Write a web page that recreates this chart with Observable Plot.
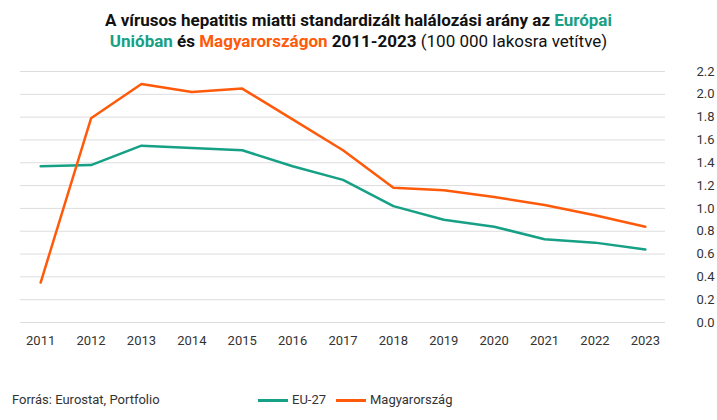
<!DOCTYPE html>
<html><head><meta charset="utf-8">
<script src="https://cdn.jsdelivr.net/npm/d3@7"></script>
<script src="https://cdn.jsdelivr.net/npm/@observablehq/plot@0.6"></script>
<style>
body{margin:0;font-family:Roboto,sans-serif;background:#fff;width:717px}
#t{text-align:center;font-size:17px;font-weight:bold;line-height:21px;padding-top:10px;height:48px;color:#111}
#f{position:relative;height:30px;font-size:13px;color:#333}
</style></head><body>
<div id="t">A vírusos hepatitis miatti standardizált halálozási arány az <span style="color:#16a085">Európai<br>Unióban</span> és <span style="color:#ff5a0a">Magyarországon</span> 2011-2023 <span style="font-weight:normal">(100 000 lakosra vetítve)</span></div>
<div id="c"></div>
<div id="f">
<span style="position:absolute;left:12px;top:4px">Forrás: Eurostat, Portfolio</span>
<span style="position:absolute;left:258px;top:4px"><span style="display:inline-block;width:30px;height:3px;background:#16a085;vertical-align:middle;margin-right:4px"></span>EU-27</span>
<span style="position:absolute;left:336px;top:4px"><span style="display:inline-block;width:30px;height:3px;background:#ff5a0a;vertical-align:middle;margin-right:4px"></span>Magyarország</span>
</div>
<script>
const years=[2011,2012,2013,2014,2015,2016,2017,2018,2019,2020,2021,2022,2023];
const eu=[1.37,1.38,1.55,1.53,1.51,1.37,1.25,1.02,0.90,0.84,0.73,0.70,0.64];
const hu=[0.35,1.79,2.09,2.02,2.05,1.78,1.51,1.18,1.16,1.10,1.03,0.94,0.84];
const yTicks=d3.range(0,2.21,0.2);
const data=[...years.map((y,i)=>({year:y,v:eu[i],s:"EU-27"})),...years.map((y,i)=>({year:y,v:hu[i],s:"Magyarország"}))];
const p=Plot.plot({width:717,height:330,marginLeft:20,marginRight:52,marginTop:13,marginBottom:66,
style:{fontFamily:"Roboto,sans-serif",fontSize:"13px",color:"#333"},
x:{domain:[2010.6,2023.4],ticks:years,tickFormat:d=>String(d),tickSize:0,tickPadding:13,label:null},
y:{domain:[0,2.2],ticks:yTicks,tickFormat:d3.format(".1f"),label:null,axis:null},
color:{domain:["EU-27","Magyarország"],range:["#16a085","#ff5a0a"]},
marks:[
Plot.gridY(yTicks,{stroke:"#ddd",strokeOpacity:1}),
Plot.axisY(yTicks,{anchor:"right",tickSize:0,textAnchor:"end",dx:40,tickFormat:d3.format(".1f"),label:null}),
Plot.line(data,{x:"year",y:"v",stroke:"s",strokeWidth:2.5})
]});
document.getElementById("c").append(p);
</script></body></html>
